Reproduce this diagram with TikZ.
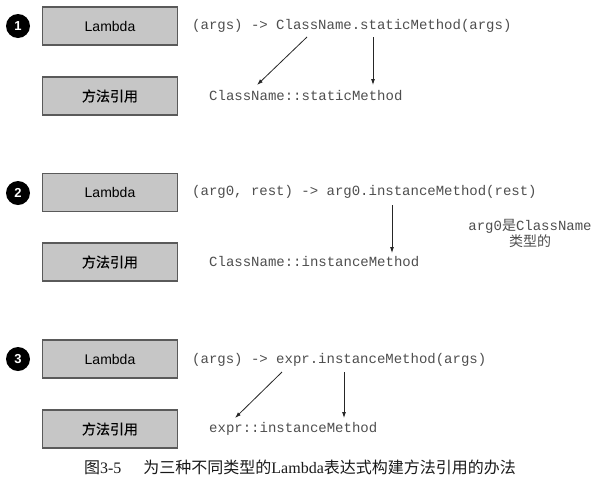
\documentclass[tikz,border=0pt]{standalone}
\usepackage{fontspec}
\setmainfont{Liberation Serif}
\setsansfont{Liberation Sans}
\setmonofont{Liberation Mono}
\newfontfamily\cjk{Noto Sans CJK SC}
\newfontfamily\cjkmid[FakeBold=0.3]{Noto Sans CJK SC}
\usetikzlibrary{arrows.meta}
\definecolor{boxgray}{HTML}{C6C6C6}
\definecolor{linegray}{HTML}{5A5A5A}
\definecolor{codegray}{HTML}{4E4E4E}

\begin{document}
\begin{tikzpicture}[x=1pt, y=-1pt,
  kind/.style={draw=linegray, line width=1.2pt, fill=boxgray, minimum width=135pt, minimum height=38pt,
    inner sep=0pt, font=\fontsize{14}{16}\selectfont\sffamily},
  num/.style={circle, fill=black, text=white, minimum size=24pt, inner sep=0pt,
    font=\fontsize{13}{15}\selectfont\sffamily\bfseries},
  code/.style={anchor=west, inner sep=0pt, text=codegray, text height=9.5pt, text depth=2.5pt,
    font=\fontsize{14}{16}\selectfont\ttfamily},
  ref/.style={draw=black!85, line width=0.8pt, -{Latex[length=6pt,width=4pt]}}]
\useasboundingbox (0,0) rectangle (601,480);

% case 1: static method
\node[num] (n1) at (18,26) {1};
\node[kind] (lam1) at (110,26) {Lambda};
\node[kind] (mref1) at (110,96) {\cjkmid 方法引用};
\node[code] (expr1) at (192,26) {(args) -> ClassName.staticMethod(args)};
\node[code] (res1) at (209,97) {ClassName::staticMethod};
\coordinate (from1a) at (307,37);
\coordinate (to1a) at (257,85);
\coordinate (from1b) at (373,37);
\coordinate (to1b) at (373,85);
\draw[ref] (from1a) -- (to1a);
\draw[ref] (from1b) -- (to1b);

% case 2: instance method of an argument
\node[num] (n2) at (18,193) {2};
\node[kind] (lam2) at (110,192.5) {Lambda};
\node[kind] (mref2) at (110,262) {\cjkmid 方法引用};
\node[code] (expr2) at (192,192) {(arg0, rest) -> arg0.instanceMethod(rest)};
\node[code] (res2) at (209,263) {ClassName::instanceMethod};
\node[code, anchor=center] (note2a) at (530,227) {arg0{\cjk 是}ClassName};
\node[code, anchor=center] (note2b) at (530,243) {\cjk 类型的};
\coordinate (from2) at (392,205);
\coordinate (to2) at (392,253);
\draw[ref] (from2) -- (to2);

% case 3: instance method of an existing object
\node[num] (n3) at (18,359) {3};
\node[kind] (lam3) at (110,359) {Lambda};
\node[kind] (mref3) at (110,429) {\cjkmid 方法引用};
\node[code] (expr3) at (192,360) {(args) -> expr.instanceMethod(args)};
\node[code] (res3) at (209,429) {expr::instanceMethod};
\coordinate (from3a) at (282,372);
\coordinate (to3a) at (235,418);
\coordinate (from3b) at (344,372);
\coordinate (to3b) at (344,418);
\draw[ref] (from3a) -- (to3a);
\draw[ref] (from3b) -- (to3b);

% caption
\node[inner sep=0pt, text=black!90, font=\fontsize{16}{18}\selectfont] (cap) at (300,467)
  {{\cjk 图}3-5\hspace{22pt}{\cjk 为三种不同类型的}Lambda{\cjk 表达式构建方法引用的办法}};
\end{tikzpicture}
\end{document}
